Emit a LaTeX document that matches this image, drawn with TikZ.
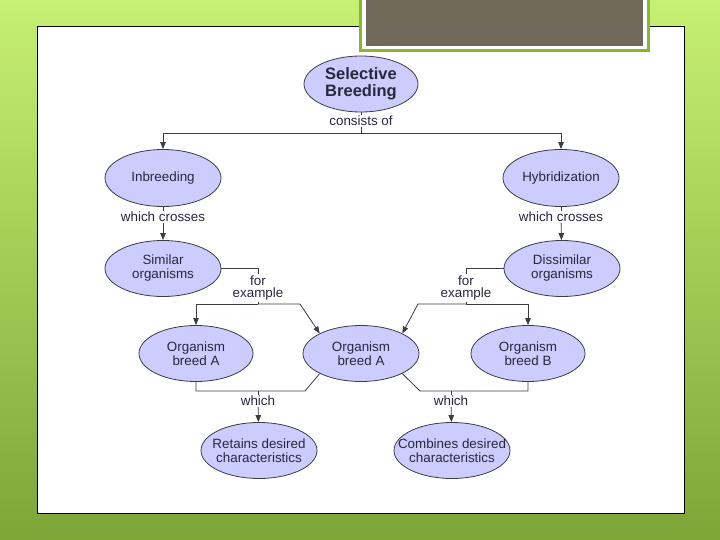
\documentclass[tikz,border=0pt]{standalone}
\usepackage{fontspec}
\setmainfont{Liberation Sans}
\usetikzlibrary{shapes.geometric,arrows.meta}
\definecolor{lav}{RGB}{204,204,255}
\definecolor{edgeg}{RGB}{60,60,70}
\definecolor{brownbox}{RGB}{112,104,88}
\definecolor{greenedge}{RGB}{140,180,50}
\definecolor{bgtop}{RGB}{198,240,115}
\definecolor{bgbot}{RGB}{125,165,55}
\definecolor{txt}{RGB}{40,40,60}
\newcommand\zw[1]{\makebox[0pt]{#1}}
\begin{document}
\begin{tikzpicture}[x=1pt,y=-1pt,
  concept/.style={ellipse,draw=edgeg,line width=0.8pt,fill=lav,minimum width=116,minimum height=57,inner sep=0pt,align=center,font=\fontsize{13.4}{14}\selectfont,text=txt},
  lbl/.style={inner sep=1pt,align=center,font=\fontsize{13.4}{12.5}\selectfont,text=txt},
  conn/.style={draw=edgeg,line width=0.8pt},
  arr/.style={conn,-{Triangle[length=7pt,width=5.5pt]}}]
\useasboundingbox (0,0) rectangle (720,540);
\shade[top color=bgtop,bottom color=bgbot] (0,0) rectangle (720,540);
\draw[fill=white,line width=1pt] (37,27) rectangle (684,513);
\fill[greenedge] (359,-2) rectangle (650,52);
\fill[white] (362,-2) rectangle (647,49);
\fill[brownbox] (366,-2) rectangle (643,46);

\node[concept,minimum width=114,minimum height=56,font=\bfseries\fontsize{16.5}{17}\selectfont] (sb) at (361,84) {\zw{Selective}\\\zw{Breeding}};
\node[concept] (inb) at (163,178) {\zw{Inbreeding}};
\node[concept] (hyb) at (561,178) {\zw{Hybridization}};
\node[concept,minimum height=56] (sim) at (163,268.5) {\zw{Similar}\\\zw{organisms}};
\node[concept,minimum height=56] (dis) at (562,268.5) {\zw{Dissimilar}\\\zw{organisms}};
\node[concept,minimum width=114,minimum height=56] (oa1) at (196,353.5) {\zw{Organism}\\\zw{breed A}};
\node[concept,minimum height=56] (oa2) at (361,353.5) {\zw{Organism}\\\zw{breed A}};
\node[concept,minimum width=114,minimum height=56] (ob) at (528,353.5) {\zw{Organism}\\\zw{breed B}};
\node[concept,minimum height=56] (ret) at (259,450.5) {\zw{Retains desired}\\\zw{characteristics}};
\node[concept,minimum height=56] (com) at (452,450.5) {\zw{Combines desired}\\\zw{characteristics}};

\node[lbl] (l1) at (361,121) {consists of};
\node[lbl] (l2) at (163,217) {which crosses};
\node[lbl] (l3) at (561,217) {which crosses};
\node[lbl] (l4) at (258,288) {for\\example};
\node[lbl] (l5) at (466,288) {for\\example};
\node[lbl] (l6) at (258,401) {which};
\node[lbl] (l7) at (451,401) {which};

\coordinate (j1) at (361,133);
\coordinate (j4) at (258,304);
\coordinate (j4r) at (300,304);
\coordinate (j5) at (466,304);
\coordinate (j5l) at (418,304);
\coordinate (j6) at (258,391);
\coordinate (j6r) at (305,391);
\coordinate (j7) at (451,391);
\coordinate (j7l) at (420,391);

% consists of
\draw[conn] (sb) -- (l1);
\draw[conn] (l1) -- (j1);
\draw[arr] (j1) -| (inb);
\draw[arr] (j1) -| (hyb);
% which crosses
\draw[conn] (inb) -- (l2);
\draw[arr] (l2) -- (sim);
\draw[conn] (hyb) -- (l3);
\draw[arr] (l3) -- (dis);
% for example (left)
\draw[conn] (sim.east) -| (l4.north);
\draw[conn] (l4) -- (j4);
\draw[arr] (j4) -| (oa1);
\draw[arr] (j4) -- (j4r) -- (oa2.north west);
% for example (right)
\draw[conn] (dis.west) -| (l5.north);
\draw[conn] (l5) -- (j5);
\draw[arr] (j5) -| (ob);
\draw[arr] (j5) -- (j5l) -- (oa2.north east);
% which (left)
\draw[conn] (oa1.south) |- (j6r) -- (oa2.south west);
\draw[conn] (j6) -- (l6);
\draw[arr] (l6) -- (ret);
% which (right)
\draw[conn] (oa2.south east) -- (j7l) -| (ob.south);
\draw[conn] (j7) -- (l7);
\draw[arr] (l7) -- (com);
\end{tikzpicture}
\end{document}
